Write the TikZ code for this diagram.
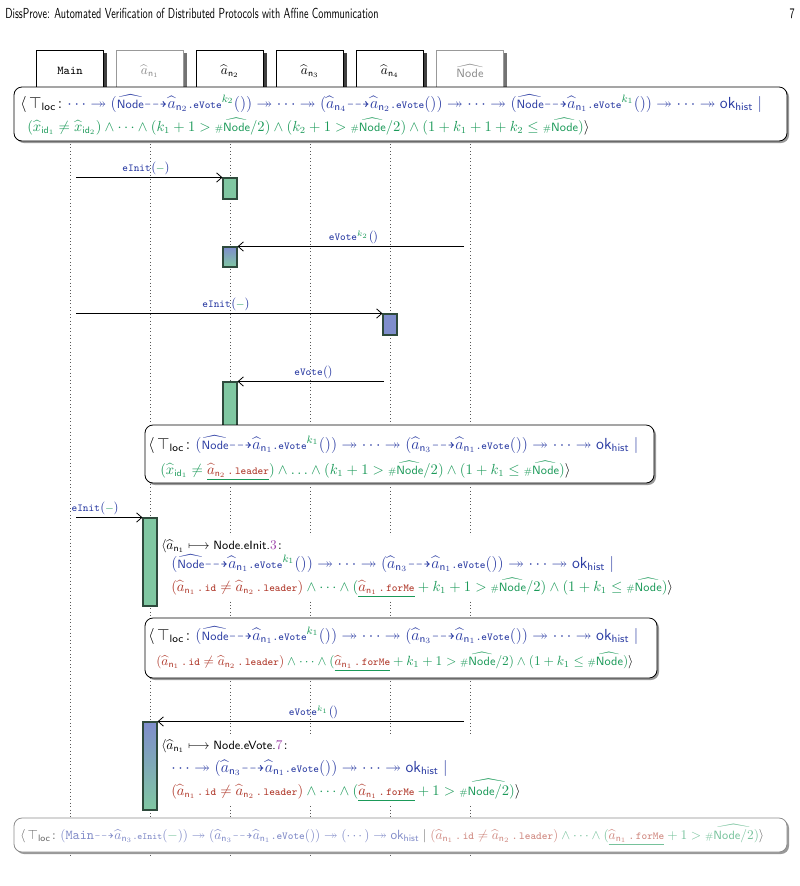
\documentclass[tikz,border=0pt]{standalone}
\usepackage{amsmath}
\usepackage{amssymb}
\usepackage{xcolor}
\usepackage{graphicx}
\usetikzlibrary{arrows.meta, positioning, backgrounds, fit, shadows, calc}

\definecolor{cblue}{HTML}{2B3CA3}
\definecolor{cgreen}{HTML}{1B9A59}
\definecolor{cred}{HTML}{B0392B}
\definecolor{cpurple}{HTML}{9B3FA8}
\definecolor{actgreen}{HTML}{80C8A2}
\definecolor{actblue}{HTML}{7F8ECC}
\definecolor{actedge}{HTML}{2E4A3C}

% notation used in the trace boxes
\newcommand{\ahat}[1]{\widehat{a}_{\mathsf{n}_{#1}}}
\newcommand{\nodeh}{\widehat{\text{\sffamily\small Node}}}
\newcommand{\cnt}{\text{\sffamily\scriptsize\#}\nodeh}
\newcommand{\chan}{\mathord{\dashrightarrow}}
\newcommand{\thr}{\twoheadrightarrow}
\newcommand{\okh}{\mathsf{ok}_{\mathsf{hist}}}
\newcommand{\tloc}{\langle\,\top_{\mathsf{loc}}\colon}
\newcommand{\ev}{\text{\ttfamily\footnotesize .eVote}}
\newcommand{\evk}[1]{\ev^{\textcolor{cgreen}{k_{#1}}}}
\newcommand{\fld}[1]{\text{\ttfamily\footnotesize\,.\,#1}}
\newcommand{\gline}[1]{\textcolor{cgreen}{\underline{\textcolor{cred}{#1}}}}
\newcommand{\idneq}{\textcolor{cred}{(\ahat{1}\fld{id}\neq\ahat{2}\fld{leader})}}

\begin{document}
\begin{tikzpicture}[x=0.75pt, y=-0.75pt,
    head/.style={rectangle, draw=black, fill=white, minimum width=50pt, minimum height=31pt, font=\normalsize,
        drop shadow={shadow xshift=3pt, shadow yshift=-2pt, fill=#1, opacity=1}},
    head/.default=black!75,
    state/.style={rectangle, draw=black, semithick, fill=white, rounded corners=6pt, inner sep=0pt,
        drop shadow={shadow xshift=1.5pt, shadow yshift=-1.5pt, fill=black!40, opacity=1}},
    act/.style={rectangle, draw=actedge, thick, inner sep=0pt},
    lifeline/.style={draw=black!65, dotted, line width=0.6pt},
    msg/.style={draw=black, semithick, shorten <=4.5pt, -{Straight Barb[length=4pt, width=7pt]}},
    lbl/.style={above, inner sep=1.5pt, font=\footnotesize},
    txt/.style={anchor=base west, inner sep=0pt},
    blueline/.style={txt, font=\fontsize{11.9}{14}\selectfont},
    greenline/.style={txt, font=\fontsize{10.5}{12}\selectfont},
]
    \useasboundingbox (0,0) rectangle (800,886);

    % Running head
    \node[anchor=base west, inner sep=0pt, font=\fontsize{10.9}{12}\sffamily] (title) at (5,18)
        {\scalebox{0.7}[1]{DissProve: Automated Verification of Distributed Protocols with Affine Communication}};
    \node[anchor=base east, inner sep=0pt, font=\fontsize{10.9}{12}\sffamily] (page) at (795,18) {\scalebox{0.7}[1]{7}};

    % Participants
    \node[head] (main) at (70,71) {\ttfamily\small Main};
    \node[head=black!55, draw=black!40, text=black!45] (an1) at (150,71) {$\ahat{1}$};
    \node[head] (an2) at (230,71) {$\ahat{2}$};
    \node[head] (an3) at (310,71) {$\ahat{3}$};
    \node[head] (an4) at (390,71) {$\ahat{4}$};
    \node[head=black!55, draw=black!40, text=black!45] (node) at (470,71) {$\nodeh$};
    \coordinate (bottom) at (0,858);

    \begin{scope}[on background layer]
        \foreach \p in {main,an1,an2,an3,an4,node}
            \draw[lifeline] (\p.south) -- (\p |- bottom);
    \end{scope}

    % Initial global state
    \node[state, fit={(14,87) (787,141)}] (s0) {};
    \node[blueline, font=\fontsize{11.8}{14}\selectfont] (s0a) at (20,108) {$\tloc \textcolor{cblue}{\cdots \thr (\nodeh\chan\ahat{2}\evk{2}()) \thr \cdots \thr (\ahat{4}\chan\ahat{2}\ev()) \thr \cdots \thr (\nodeh\chan\ahat{1}\evk{1}()) \thr \cdots \thr \okh \mid}$};
    \node[greenline] (s0b) at (27,131) {$\textcolor{cgreen}{(\widehat{x}_{\mathsf{id}_1} \neq \widehat{x}_{\mathsf{id}_2}) \land \cdots \land (k_1 + 1 > \cnt/2) \land (k_2 + 1 > \cnt/2) \land (1 + k_1 + 1 + k_2 \leq \cnt)}\rangle$};

    % Activations
    \node[act, fill=actgreen, fit={(223,178) (237,199)}] (act1) {};
    \node[act, top color=actblue, bottom color=actgreen, fit={(223,247) (237,267)}] (act2) {};
    \node[act, fill=actblue, fit={(383,314) (397,335)}] (act3) {};
    \node[act, fill=actgreen, fit={(223,382) (237,430)}] (act4) {};
    \node[act, fill=actgreen, fit={(143,518) (157,606)}] (act5) {};
    \node[act, top color=actblue, bottom color=actgreen, fit={(143,722) (157,810)}] (act6) {};

    % Messages
    \draw[msg] (main |- act1.north) -- (act1.north west)
        node[lbl, midway] {$\textcolor{cblue}{\texttt{eInit}\bigl(}\textcolor{cgreen}{-}\textcolor{cblue}{\bigr)}$};
    \draw[msg] (node |- act2.north) -- (act2.north east)
        node[lbl, midway] {$\textcolor{cblue}{\texttt{eVote}^{\textcolor{cgreen}{k_2}}\bigl(\bigr)}$};
    \draw[msg] (main |- act3.north) -- (act3.north west)
        node[lbl, midway] {$\textcolor{cblue}{\texttt{eInit}\bigl(}\textcolor{cgreen}{-}\textcolor{cblue}{\bigr)}$};
    \draw[msg] (an4 |- act4.north) -- (act4.north east)
        node[lbl, midway] {$\textcolor{cblue}{\texttt{eVote}\bigl(\bigr)}$};
    \draw[msg] (main |- act5.north) -- (act5.north west)
        node[lbl, pos=0.35] {$\textcolor{cblue}{\texttt{eInit}\bigl(}\textcolor{cgreen}{-}\textcolor{cblue}{\bigr)}$};
    \draw[msg] (node |- act6.north) -- (act6.north east)
        node[lbl, midway] {$\textcolor{cblue}{\texttt{eVote}^{\textcolor{cgreen}{k_1}}\bigl(\bigr)}$};

    % State after the first vote
    \node[state, fit={(145,425) (654,483)}] (s1) {};
    \node[blueline] (s1a) at (148,449) {$\tloc \textcolor{cblue}{(\nodeh\chan\ahat{1}\evk{1}()) \thr \cdots \thr (\ahat{3}\chan\ahat{1}\ev()) \thr \cdots \thr \okh \mid}$};
    \node[greenline] (s1b) at (160,474) {$\textcolor{cgreen}{(\widehat{x}_{\mathsf{id}_1} \neq \gline{\ahat{2}\fld{leader}}) \land \ldots \land (k_1 + 1 > \cnt/2) \land (1 + k_1 \leq \cnt)}\rangle$};

    % Handler of eInit
    \node[txt] (h1a) at (161,549) {$\langle\ahat{1} \longmapsto \text{\sffamily\small Node.eInit.}\textcolor{cpurple}{3}\colon$};
    \node[blueline] (h1b) at (171,568) {$\textcolor{cblue}{(\nodeh\chan\ahat{1}\evk{1}()) \thr \cdots \thr (\ahat{3}\chan\ahat{1}\ev()) \thr \cdots \thr \okh \mid}$};
    \node[greenline] (h1c) at (171,591) {$\idneq \textcolor{cgreen}{{}\land \cdots \land (\gline{\ahat{1}\fld{forMe}} + k_1 + 1 > \cnt/2) \land (1 + k_1 \leq \cnt)}\rangle$};

    % State before the last vote
    \node[state, fit={(145,618) (657,678)}] (s2) {};
    \node[blueline] (s2a) at (148,640) {$\tloc \textcolor{cblue}{(\nodeh\chan\ahat{1}\evk{1}()) \thr \cdots \thr (\ahat{3}\chan\ahat{1}\ev()) \thr \cdots \thr \okh \mid}$};
    \node[greenline, font=\fontsize{10.2}{12}\selectfont] (s2b) at (156,665) {$\idneq \textcolor{cgreen}{{}\land \cdots \land (\gline{\ahat{1}\fld{forMe}} + k_1 + 1 > \cnt/2) \land (1 + k_1 \leq \cnt)}\rangle$};

    % Handler of eVote
    \node[txt] (h2a) at (161,749) {$\langle\ahat{1} \longmapsto \text{\sffamily\small Node.eVote.}\textcolor{cpurple}{7}\colon$};
    \node[blueline] (h2b) at (171,772) {$\textcolor{cblue}{\cdots \thr (\ahat{3}\chan\ahat{1}\ev()) \thr \cdots \thr \okh \mid}$};
    \node[greenline] (h2c) at (171,795) {$\idneq \textcolor{cgreen}{{}\land \cdots \land (\gline{\ahat{1}\fld{forMe}} + 1 > \text{\sffamily\scriptsize\#}\widehat{\text{\sffamily\small Node}/2})}\rangle$};

    \begin{scope}[on background layer]
        \node[fill=white, inner sep=2pt, fit=(h1a) (h1b) (h1c)] (h1bg) {};
        \node[fill=white, inner sep=2pt, fit=(h2a) (h2b) (h2c)] (h2bg) {};
    \end{scope}

    % Final (faded) state
    \node[state, draw=black!45, fit={(14,818) (787,852)}] (s3) {};
    \node[txt, opacity=0.6, font=\fontsize{10.2}{11}\selectfont] (s3a) at (20,839) {$\tloc \textcolor{cblue}{(\text{\ttfamily Main}\chan\ahat{3}\text{\ttfamily\scriptsize .eInit}(\textcolor{cgreen}{-})) \thr (\ahat{3}\chan\ahat{1}\ev()) \thr (\cdots) \thr \okh} \mid \idneq \textcolor{cgreen}{{}\land \cdots \land (\gline{\ahat{1}\fld{forMe}} + 1 > \text{\sffamily\scriptsize\#}\widehat{\text{\sffamily\small Node}/2})}\rangle$};
\end{tikzpicture}
\end{document}
